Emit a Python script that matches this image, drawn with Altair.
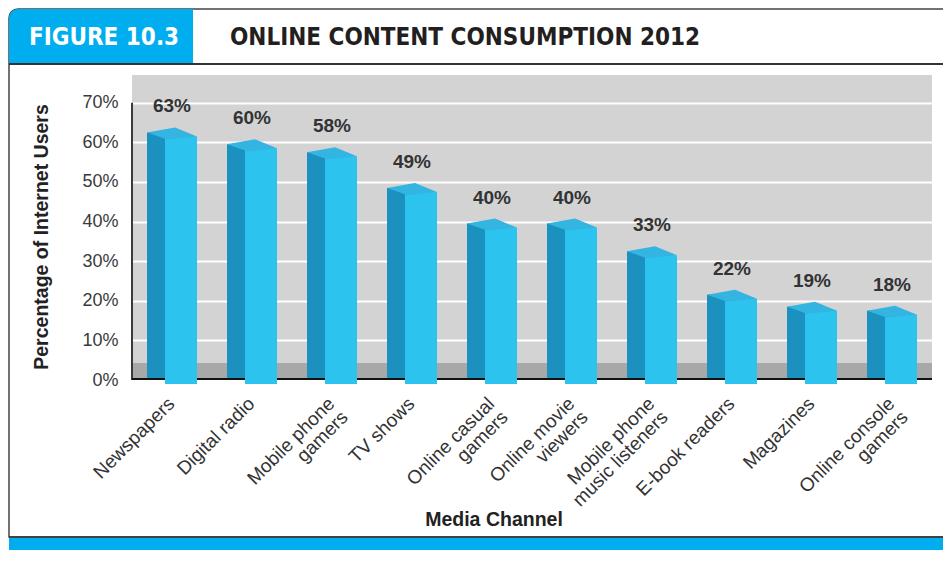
import altair as alt
import pandas as pd

# ---- data ----
categories = ["Newspapers", "Digital radio", "Mobile phone\ngamers", "TV shows",
              "Online casual\ngamers", "Online movie\nviewers",
              "Mobile phone\nmusic listeners", "E-book readers", "Magazines",
              "Online console\ngamers"]
values = [63, 60, 58, 49, 40, 40, 33, 22, 19, 18]
y_ticks = [0, 10, 20, 30, 40, 50, 60, 70]
figure_label = "FIGURE 10.3"
title_text = "ONLINE CONTENT CONSUMPTION 2012"
y_title = "Percentage of Internet Users"
x_title = "Media Channel"

df = pd.DataFrame({"channel": categories, "value": values,
                   "label": [f"{v}%" for v in values]})

W, H = 800, 305
FONT = "Liberation Sans, Arial, sans-serif"
HFONT = "DejaVu Sans Condensed, DejaVu Sans, sans-serif"

x_scale = alt.Scale(domain=categories, paddingInner=0, paddingOuter=0)
y_scale = alt.Scale(domain=[0, 77], nice=False, zero=True)

x_axis = alt.Axis(title=None, labelAngle=-45, labelAlign="right", labelBaseline="top",
                  labelFontSize=19, labelFont=FONT, labelColor="#333333",
                  labelPadding=14, labelOffset=-7, labelLineHeight=19, ticks=False,
                  domain=False, grid=False, labelExpr="split(datum.label, '\\n')",
                  labelLimit=300)
y_axis = alt.Axis(title=None, values=y_ticks, labelExpr="datum.value + '%'",
                  labelFontSize=18, labelFont=FONT, labelColor="#3a3a3a",
                  labelPadding=14, ticks=False, domain=False, grid=True,
                  gridColor="#ffffff", gridWidth=2, gridOpacity=1)

X = alt.X("channel:N", scale=x_scale, sort=categories, axis=x_axis)
Y = alt.Y("value:Q", scale=y_scale, axis=y_axis)

base = alt.Chart(df)
one = pd.DataFrame({"k": [0]})

# floor of the 3D plot area
floor = alt.Chart(one).mark_rect(color="#a8a8a8").encode(
    x=alt.value(0), x2=alt.value(W), y=alt.value(H - 17), y2=alt.value(H))

axis_df = pd.DataFrame({"value": [0], "v2": [70]})
yline = alt.Chart(axis_df).mark_rule(color="#3a3a3a", strokeWidth=2).encode(
    x=alt.value(0), y=Y, y2=alt.Y2("v2:Q"))
baseline = alt.Chart(one).mark_rule(color="#111111", strokeWidth=2).encode(
    x=alt.value(0), x2=alt.value(W), y=alt.value(H - 1))

# 3D-looking bars: side face, front face, top face
side = base.mark_bar(color="#1b91bf", width=19, xOffset=-15.5, yOffset=2, y2Offset=-2).encode(
    x=X, y=Y, y2=alt.Y2(datum=0))
front = base.mark_bar(color="#2dc3ef", width=32, xOffset=9, yOffset=6, y2Offset=4).encode(
    x=X, y=Y, y2=alt.Y2(datum=0))
TOP_SHAPE = "M -1 -0.04 L 0.12 -0.24 L 1 0.12 L -0.2 0.24 Z"
topface = base.mark_point(shape=TOP_SHAPE, size=2500, filled=True, opacity=1,
                          color="#33b4e1", strokeWidth=0, yOffset=3).encode(
    x=X, y=Y)

labels = base.mark_text(baseline="bottom", dy=-14, fontSize=19, fontWeight="bold",
                        font=FONT, color="#333333").encode(x=X, y=Y, text="label:N")

# ---- decorations (frame / header / footer) ----
frame = alt.Chart(one).mark_rect(fill=None, stroke="#444444", strokeWidth=1.5,
                                  cornerRadiusTopLeft=9).encode(
    x=alt.value(-123), x2=alt.value(W + 40), y=alt.value(-66), y2=alt.value(462))
head_box = alt.Chart(one).mark_rect(color="#00aeef", cornerRadiusTopLeft=9).encode(
    x=alt.value(-123), x2=alt.value(61), y=alt.value(-66), y2=alt.value(-11))
head_line = alt.Chart(one).mark_rule(color="#333333", strokeWidth=2).encode(
    x=alt.value(-123), x2=alt.value(W + 40), y=alt.value(-11))
foot_box = alt.Chart(one).mark_rect(color="#00aeef").encode(
    x=alt.value(-123), x2=alt.value(W + 40), y=alt.value(463), y2=alt.value(475))
foot_line = alt.Chart(one).mark_rule(color="#333333", strokeWidth=1.5).encode(
    x=alt.value(-123), x2=alt.value(W + 40), y=alt.value(462))

fig_text = alt.Chart(pd.DataFrame({"t": [figure_label]})).mark_text(
    font=HFONT, fontSize=24, fontWeight="bold", color="#ffffff",
    align="center", baseline="middle").encode(
    x=alt.value(-28), y=alt.value(-37), text="t:N")
title_mark = alt.Chart(pd.DataFrame({"t": [title_text]})).mark_text(
    font=HFONT, fontSize=24, fontWeight="bold", color="#231f20",
    align="left", baseline="middle").encode(
    x=alt.value(98), y=alt.value(-37), text="t:N")
ytitle_mark = alt.Chart(pd.DataFrame({"t": [y_title]})).mark_text(
    font=FONT, fontSize=19.5, fontWeight="bold", color="#222222",
    align="center", baseline="middle", angle=270).encode(
    x=alt.value(-90), y=alt.value(162), text="t:N")
xtitle_mark = alt.Chart(pd.DataFrame({"t": [x_title]})).mark_text(
    font=FONT, fontSize=19.5, fontWeight="bold", color="#222222",
    align="center", baseline="middle").encode(
    x=alt.value(362), y=alt.value(445), text="t:N")

chart = alt.layer(
    floor, yline, baseline, side, front, topface, labels,
    frame, head_box, head_line, foot_line, foot_box,
    fig_text, title_mark, ytitle_mark, xtitle_mark
).properties(
    width=W, height=H,
    autosize=alt.AutoSizeParams(type="none"),
    padding={"left": 124, "top": 67, "right": 11, "bottom": 173},
    background="#ffffff"
).configure_view(fill="#d3d3d3", stroke=None)

chart.save("out.html", embed_options={"renderer": "svg", "actions": False})
